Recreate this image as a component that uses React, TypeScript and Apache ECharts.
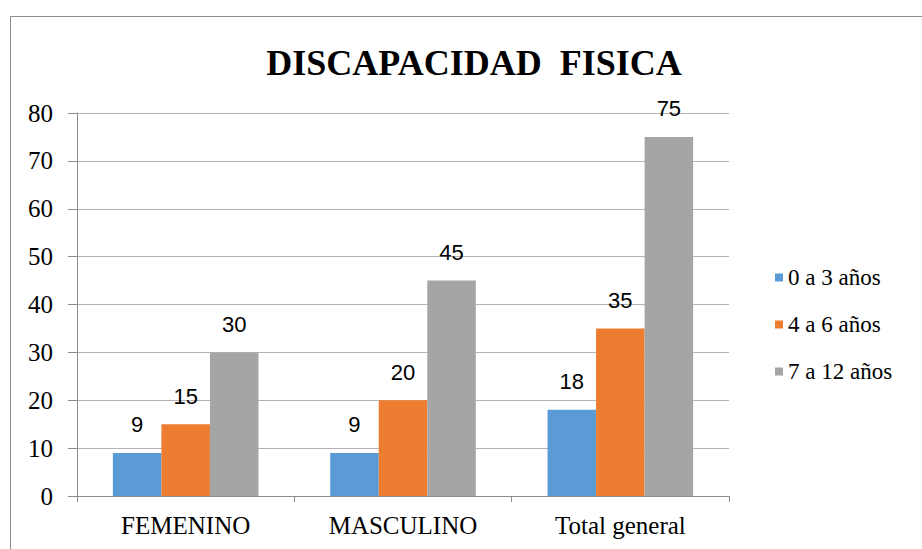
import React, { useEffect, useRef } from "react";
import * as echarts from "echarts";

const categories = ["FEMENINO", "MASCULINO", "Total general"];
const seriesNames = ["0 a 3 años", "4 a 6 años", "7 a 12 años"];
const age0to3 = [9, 9, 18];
const age4to6 = [15, 20, 35];
const age7to12 = [30, 45, 75];
const colors = ["#5B9BD5", "#ED7D31", "#A5A5A5"];
const titleText = "DISCAPACIDAD  FISICA";

export default function App() {
  const ref = useRef<HTMLDivElement>(null);
  useEffect(() => {
    document.body.style.margin = "0";
    const chart = echarts.init(ref.current!, null, { renderer: "svg" });
    const serif = "Liberation Serif";
    const sans = "Liberation Sans";
    const data = [age0to3, age4to6, age7to12];
    chart.setOption({
      animation: false,
      backgroundColor: "#ffffff",
      color: colors,
      textStyle: { fontFamily: serif },
      title: {
        text: titleText,
        left: 469,
        textAlign: "center",
        top: 40,
        textStyle: { fontFamily: serif, fontWeight: "bold", fontSize: 36, color: "#000" },
      },
      graphic: [
        {
          type: "rect",
          shape: { x: 10.5, y: 16.5, width: 930, height: 560 },
          style: { fill: "none", stroke: "#8c8c8c", lineWidth: 1 },
          silent: true,
        },
      ],
      legend: {
        orient: "vertical",
        left: 770,
        top: 261,
        itemWidth: 8,
        itemHeight: 8,
        itemGap: 24,
        icon: "rect",
        textStyle: { fontFamily: serif, fontSize: 23, color: "#000" },
        data: seriesNames,
      },
      grid: { left: 77, right: 193, top: 113, bottom: 53, containLabel: false },
      xAxis: {
        type: "category",
        data: categories,
        axisLine: { lineStyle: { color: "#8c8c8c" } },
        axisTick: { show: true, length: 6, lineStyle: { color: "#8c8c8c" } },
        axisLabel: { fontFamily: serif, fontSize: 25, color: "#000", margin: 17 },
      },
      yAxis: {
        type: "value",
        min: 0,
        max: 80,
        interval: 10,
        axisLine: { show: true, lineStyle: { color: "#8c8c8c" } },
        axisTick: { show: true, length: 9, lineStyle: { color: "#8c8c8c" } },
        splitLine: { lineStyle: { color: "#b3b3b3" } },
        axisLabel: { fontFamily: serif, fontSize: 25, color: "#000", margin: 24 },
      },
      series: seriesNames.map((name, i) => ({
        name,
        type: "bar",
        data: data[i],
        barGap: "0%",
        barCategoryGap: "33%",
        itemStyle: { color: colors[i] },
        label: {
          show: true,
          position: "top",
          distance: 17,
          fontFamily: sans,
          fontSize: 22,
          color: "#000",
        },
      })),
    });
    return () => chart.dispose();
  }, []);
  return (
    <div
      ref={ref}
      style={{ position: "fixed", left: 0, top: 0, width: 922, height: 549 }}
    />
  );
}
